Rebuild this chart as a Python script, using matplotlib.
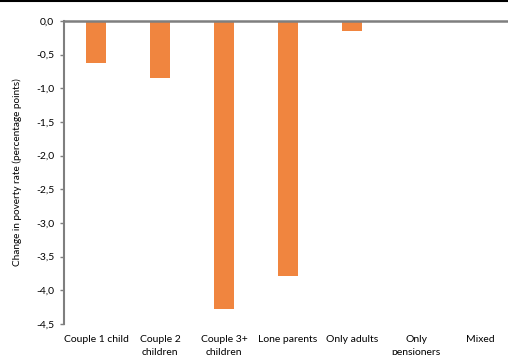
import matplotlib.pyplot as plt
from matplotlib.lines import Line2D
from matplotlib.ticker import FuncFormatter

# categorias e valores (pontos percentuais)
categorias = ['Couple 1 child', 'Couple 2\nchildren', 'Couple 3+\nchildren',
              'Lone parents', 'Only adults', 'Only\npensioners', 'Mixed']
valores = [-0.62, -0.85, -4.28, -3.79, -0.15, 0.0, 0.0]
yticks = [0.0, -0.5, -1.0, -1.5, -2.0, -2.5, -3.0, -3.5, -4.0, -4.5]

plt.rcParams['font.family'] = ['Lato', 'DejaVu Sans']

fig = plt.figure(figsize=(5.08, 3.55), dpi=100)
ax = fig.add_axes([64 / 508, 1 - 324 / 355, 448 / 508, 303 / 355])

x = range(len(categorias))
ax.bar(x, valores, width=0.31, color='#F0853F', zorder=2)

ax.set_xlim(-0.5, len(categorias) - 0.5)
ax.set_ylim(-4.5, 0.0)
ax.set_yticks(yticks)
ax.yaxis.set_major_formatter(FuncFormatter(lambda v, p: f'{v:.1f}'.replace('.', ',').replace('-0,0', '0,0')))
ax.set_xticks(list(x))
ax.set_xticklabels(categorias, fontsize=7.5, linespacing=1.6, va='top')
ax.tick_params(axis='x', length=0, pad=8)
ax.tick_params(axis='y', labelsize=7.5, length=3, width=1, color='#7f7f7f', pad=4)

for s in ['right', 'bottom']:
    ax.spines[s].set_visible(False)
ax.spines['left'].set_color('#7f7f7f')
ax.spines['left'].set_linewidth(1.5)
ax.spines['top'].set_color('#7f7f7f')
ax.spines['top'].set_linewidth(1.8)
ax.spines['top'].set_zorder(3)

ax.set_ylabel('Change in poverty rate (percentage points)', fontsize=7.2, labelpad=10)

# linha preta no topo
fig.add_artist(Line2D([0, 1], [0.998, 0.998], color='black', lw=1.5, transform=fig.transFigure))

plt.savefig('out.png', dpi=100)
